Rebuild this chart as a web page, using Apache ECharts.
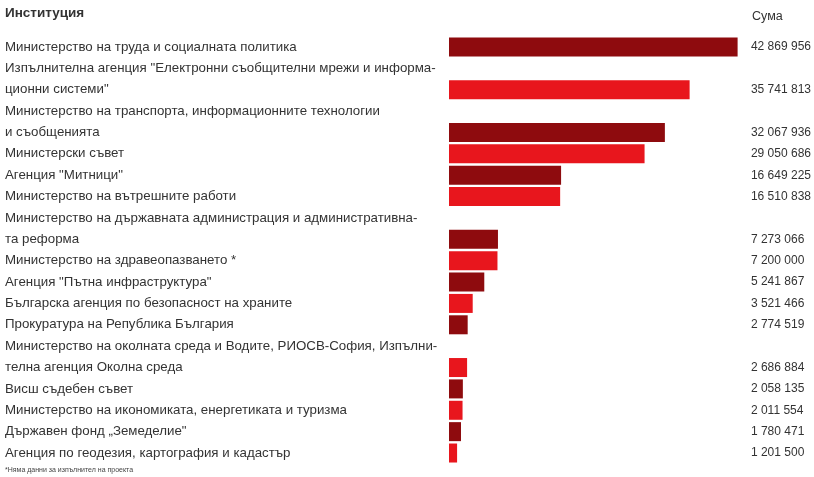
<!DOCTYPE html>
<html><head><meta charset="utf-8">
<script src="https://cdn.jsdelivr.net/npm/echarts@6/dist/echarts.min.js"></script>
<style>html,body{margin:0;padding:0;background:#fff}#c{width:814px;height:477px}</style>
</head><body><div id="c"></div>
<script>
const institutions = [
  "Министерство на труда и социалната политика",
  "Изпълнителна агенция \"Електронни съобщителни мрежи и информа-\nционни системи\"",
  "Министерство на транспорта, информационните технологии\nи съобщенията",
  "Министерски съвет",
  "Агенция \"Митници\"",
  "Министерство на вътрешните работи",
  "Министерство на държавната администрация и административна-\nта реформа",
  "Министерство на здравеопазването *",
  "Агенция \"Пътна инфраструктура\"",
  "Българска агенция по безопасност на храните",
  "Прокуратура на Република България",
  "Министерство на околната среда и Водите, РИОСВ-София, Изпълни-\nтелна агенция Околна среда",
  "Висш съдебен съвет",
  "Министерство на икономиката, енергетиката и туризма",
  "Държавен фонд „Земеделие\"",
  "Агенция по геодезия, картография и кадастър"
];
const amounts = [42869956, 35741813, 32067936, 29050686, 16649225, 16510838, 7273066, 7200000, 5241867, 3521466, 2774519, 2686884, 2058135, 2011554, 1780471, 1201500];
const headerLeft = "Институция";
const headerRight = "Сума";
const footnote = "*Няма данни за изпълнител на проекта";
const colors = ["#8e0b0e", "#e8161d"];

function fmt(v){ return String(v).replace(/\B(?=(\d{3})+(?!\d))/g, ' '); }

// build line slots: each label line is a slot; bar sits on the last line
const slotLabels = [], slotValues = [], slotData = [];
institutions.forEach((name, i) => {
  const lines = name.split('\n');
  lines.forEach((ln, j) => {
    slotLabels.push(ln);
    const last = j === lines.length - 1;
    slotValues.push(last ? fmt(amounts[i]) : '');
    slotData.push(last ? {value: amounts[i], itemStyle: {color: colors[i % 2]}} : null);
  });
});
const cats = slotLabels.map((_, k) => 's' + k);

const chart = echarts.init(document.getElementById('c'), null, {renderer: 'canvas'});
const font = 'Liberation Sans';
chart.setOption({
  animation: false,
  textStyle: {fontFamily: font},
  title: [
    {text: headerLeft, left: 5, top: 6, padding: 0, textStyle: {fontFamily: font, fontSize: 13.5, fontWeight: 'bold', color: '#333'}},
    {text: headerRight, left: 752, top: 10, padding: 0, textStyle: {fontFamily: font, fontSize: 12.5, fontWeight: 'normal', color: '#333'}},
    {text: footnote, left: 5, top: 467, padding: 0, textStyle: {fontFamily: font, fontSize: 7, fontWeight: 'normal', color: '#444'}}
  ],
  grid: {left: 449, right: 62, top: 36.3, bottom: 13.3, containLabel: false},
  xAxis: {type: 'value', min: 0, max: 45000000, show: false},
  yAxis: [
    {type: 'category', data: cats, inverse: true,
     axisLine: {show: false}, axisTick: {show: false}, splitLine: {show: false},
     axisLabel: {margin: 444, align: 'left', fontSize: 13.3, color: '#333', fontFamily: font,
       formatter: (v, idx) => slotLabels[idx]}},
    {type: 'category', data: cats, inverse: true, position: 'right',
     axisLine: {show: false}, axisTick: {show: false}, splitLine: {show: false},
     axisLabel: {margin: -1, align: 'left', fontSize: 12, color: '#333', fontFamily: font,
       formatter: (v, idx) => slotValues[idx]}}
  ],
  series: [{type: 'bar', data: slotData, barWidth: 19, yAxisIndex: 0, silent: true}]
});
</script></body></html>
